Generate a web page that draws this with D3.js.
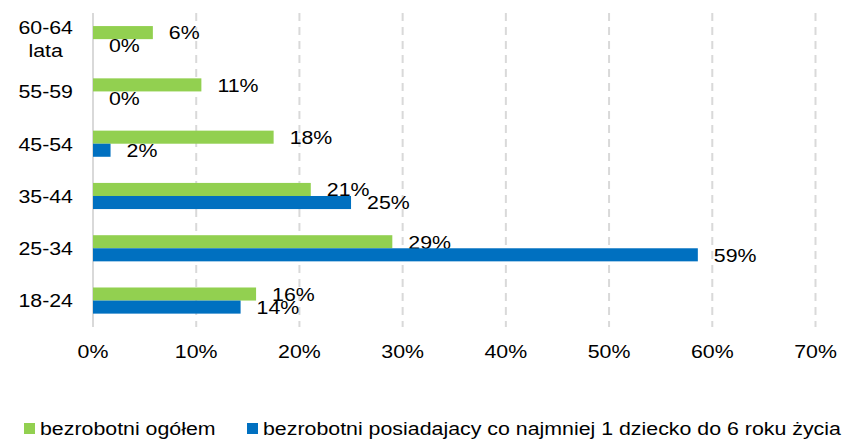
<!DOCTYPE html>
<html>
<head>
<meta charset="utf-8">
<script src="https://cdn.jsdelivr.net/npm/d3@7"></script>
<style>
  html, body { margin: 0; padding: 0; background: #fff; }
  text { font-family: "Liberation Sans", Arial, sans-serif; font-size: 18.9px; fill: #000; }
</style>
</head>
<body>
<svg id="chart" width="843" height="440"></svg>
<script>
// dane (od góry do dołu)
var categories = ["60-64\nlata", "55-59", "45-54", "35-44", "25-34", "18-24"];
var ogolem = [5.8, 10.5, 17.5, 21.1, 29.0, 15.8];
var zDzieckiem = [0, 0, 1.7, 25.0, 58.6, 14.3];
var ogolemLabels = ["6%", "11%", "18%", "21%", "29%", "16%"];
var zDzieckiemLabels = ["0%", "0%", "2%", "25%", "59%", "14%"];
var xTicks = [0, 10, 20, 30, 40, 50, 60, 70];
var seriesNames = ["bezrobotni ogółem", "bezrobotni posiadajacy co najmniej 1 dziecko do 6 roku życia"];

var colors = ["#92D050", "#0070C0"];
var sx = 1.13; // tekst w oryginale jest lekko rozciągnięty w poziomie

var svg = d3.select("#chart");

var x = d3.scaleLinear().domain([0, 70]).range([93, 815.5]);
var y = d3.scaleBand().domain(d3.range(categories.length)).range([13, 326.7])
  .paddingInner(0.5).paddingOuter(0.25);
var ySub = d3.scaleBand().domain([0, 1]).range([0, y.bandwidth()]);

function stretched(sel, px, py) {
  return sel.attr("transform", function(d, i) {
    return "translate(" + px(d, i) + "," + py(d, i) + ") scale(" + sx + ",1)";
  });
}

// siatka
svg.append("g").selectAll("line")
  .data(xTicks.slice(1))
  .enter().append("line")
    .attr("x1", function(d) { return x(d); })
    .attr("x2", function(d) { return x(d); })
    .attr("y1", 13)
    .attr("y2", 327)
    .attr("stroke", "#d9d9d9")
    .attr("stroke-width", 2)
    .attr("stroke-dasharray", "8,6");

svg.append("line")
  .attr("x1", x(0)).attr("x2", x(0))
  .attr("y1", 13).attr("y2", 327)
  .attr("stroke", "#d9d9d9")
  .attr("stroke-width", 2);

// słupki
var series = [ogolem, zDzieckiem];
var labels = [ogolemLabels, zDzieckiemLabels];

series.forEach(function(vals, s) {
  var g = svg.append("g");
  g.selectAll("rect")
    .data(vals)
    .enter().append("rect")
      .attr("x", x(0))
      .attr("y", function(d, i) { return y(i) + ySub(s); })
      .attr("width", function(d) { return x(d) - x(0); })
      .attr("height", ySub.bandwidth())
      .attr("fill", colors[s]);

  stretched(g.selectAll("text")
    .data(vals)
    .enter().append("text")
      .attr("dy", "0.36em")
      .text(function(d, i) { return labels[s][i]; }),
    function(d) { return x(d) + 16; },
    function(d, i) { return y(i) + ySub(s) + ySub.bandwidth() / 2; });
});

// etykiety kategorii
var catG = svg.append("g");
categories.forEach(function(c, i) {
  var lines = c.split("\n");
  var cy = y(i) + y.bandwidth() / 2;
  var lh = 23;
  var t = catG.append("text");
  if (lines.length === 1) {
    t.attr("text-anchor", "end").attr("dy", "0.36em").text(c);
    t.attr("transform", "translate(73," + cy + ") scale(" + sx + ",1)");
  } else {
    lines.forEach(function(l, k) {
      t.append("tspan")
        .attr("x", 0)
        .attr("y", (k - (lines.length - 1) / 2) * lh)
        .attr("dy", "0.36em")
        .text(l);
    });
    var w = d3.max(t.selectAll("tspan").nodes(), function(n) { return n.getComputedTextLength(); }) * sx;
    t.attr("text-anchor", "middle")
      .attr("transform", "translate(" + (73 - w / 2) + "," + cy + ") scale(" + sx + ",1)");
  }
});

// oś X
stretched(svg.append("g").selectAll("text")
  .data(xTicks)
  .enter().append("text")
    .attr("text-anchor", "middle")
    .text(function(d) { return d + "%"; }),
  function(d) { return x(d); },
  function() { return 358; });

// legenda
var legendX = [24, 247];
var leg = svg.append("g").selectAll("g")
  .data(seriesNames)
  .enter().append("g");

leg.append("rect")
  .attr("x", function(d, i) { return legendX[i]; })
  .attr("y", 423)
  .attr("width", 11)
  .attr("height", 11)
  .attr("fill", function(d, i) { return colors[i]; });

stretched(leg.append("text").text(function(d) { return d; }),
  function(d, i) { return legendX[i] + 16; },
  function() { return 435; });
</script>
</body>
</html>
